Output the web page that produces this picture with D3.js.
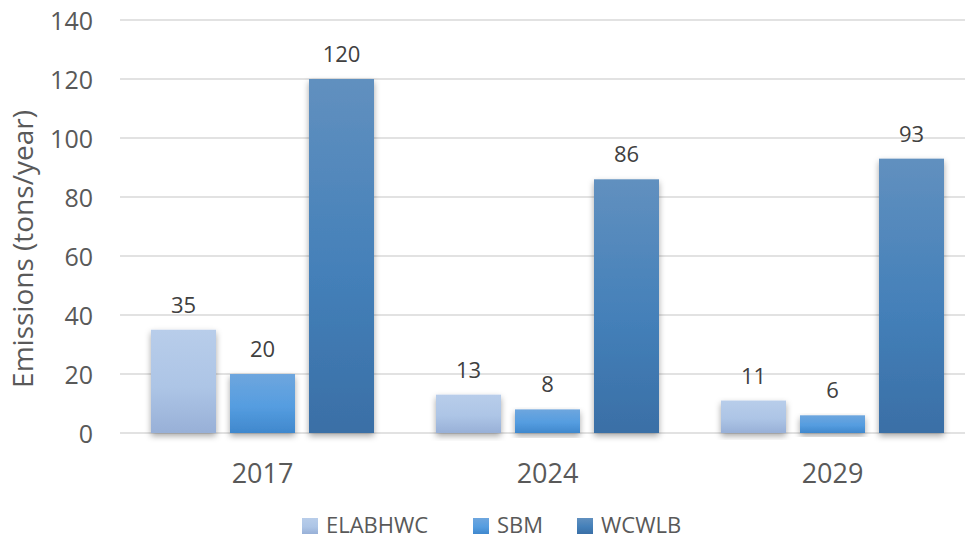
<!DOCTYPE html>
<html><head><meta charset="utf-8">
<script src="https://cdn.jsdelivr.net/npm/d3@7"></script>
<style>body{margin:0;background:#fff}svg{display:block}text{font-family:"Open Sans",sans-serif}</style>
</head><body>
<svg id="c" width="965" height="540"></svg>
<script>
const categories = ["2017", "2024", "2029"];
const seriesNames = ["ELABHWC", "SBM", "WCWLB"];
const ELABHWC = [35, 13, 11];
const SBM = [20, 8, 6];
const WCWLB = [120, 86, 93];
const yTicks = [0, 20, 40, 60, 80, 100, 120, 140];
const yTitle = "Emissions (tons/year)";

const seriesValues = [ELABHWC, SBM, WCWLB];
const grads = [
  [["0%","#b8cdea"],["55%","#adc5e6"],["100%","#98b0d7"]],
  [["0%","#6ea6de"],["55%","#559de0"],["100%","#4088cd"]],
  [["0%","#6190bf"],["55%","#4480b9"],["100%","#3a6fa6"]]
];
const FONT = "'Open Sans',sans-serif";

const svg = d3.select("#c");
const defs = svg.append("defs");
grads.forEach((g,i)=>{
  const lg = defs.append("linearGradient").attr("id","g"+i).attr("x1",0).attr("y1",0).attr("x2",0).attr("y2",1);
  g.forEach(s=>lg.append("stop").attr("offset",s[0]).attr("stop-color",s[1]));
});
const f = defs.append("filter").attr("id","sh").attr("x","-30%").attr("y","-10%").attr("width","160%").attr("height","130%");
f.append("feDropShadow").attr("dx",0).attr("dy",3).attr("stdDeviation",3).attr("flood-color","#000").attr("flood-opacity",0.35);

const y = d3.scaleLinear().domain([0,140]).range([433,20]);
const x0 = d3.scaleBand().domain(categories).range([120,975]).paddingInner(0).paddingOuter(0);
const x1 = d3.scaleBand().domain(seriesNames).range([31, 285-31]).paddingInner(14/79).paddingOuter(0);

// gridlines
svg.append("g").selectAll("line").data(yTicks).join("line")
  .attr("x1",120).attr("x2",975).attr("y1",d=>y(d)).attr("y2",d=>y(d))
  .attr("stroke","#d9d9d9").attr("stroke-width",1.3);

// y axis labels
const yAxis = d3.axisLeft(y).tickValues(yTicks).tickSize(0).tickPadding(0);
const ya = svg.append("g").attr("transform","translate(93,0)").call(yAxis);
ya.select(".domain").remove();
ya.selectAll("text").attr("font-size",25).attr("fill","#595959").attr("font-family",FONT).attr("dy","0.36em");

// y title
svg.append("text").attr("transform","translate(23,249) rotate(-90)").attr("text-anchor","middle")
  .attr("dy","0.36em").attr("font-size",28).attr("fill","#595959").text(yTitle);

// x axis labels
const xAxis = d3.axisBottom(x0).tickSize(0).tickPadding(0);
const xa = svg.append("g").attr("transform","translate(0,473)").call(xAxis);
xa.select(".domain").remove();
xa.selectAll("text").attr("font-size",27).attr("fill","#595959").attr("dy","0.36em").attr("font-family",FONT);

// bars
const groups = svg.append("g").selectAll("g").data(categories).join("g")
  .attr("transform",d=>`translate(${x0(d)},0)`);
seriesNames.forEach((s,si)=>{
  groups.append("rect")
    .attr("x",x1(s)).attr("width",x1.bandwidth())
    .attr("y",(d,ci)=>y(seriesValues[si][ci]))
    .attr("height",(d,ci)=>y(0)-y(seriesValues[si][ci]))
    .attr("fill",`url(#g${si})`).attr("filter","url(#sh)");
  groups.append("text")
    .attr("x",x1(s)+x1.bandwidth()/2)
    .attr("y",(d,ci)=>y(seriesValues[si][ci])-17)
    .attr("text-anchor","middle").attr("font-size",22).attr("fill","#404040")
    .text((d,ci)=>seriesValues[si][ci]);
});

// legend
const legX = [302, 473, 577];
const leg = svg.append("g").selectAll("g").data(seriesNames).join("g")
  .attr("transform",(d,i)=>`translate(${legX[i]},518)`);
leg.append("rect").attr("width",16).attr("height",16).attr("fill",(d,i)=>`url(#g${i})`);
leg.append("text").attr("x",24).attr("y",15).attr("font-size",22).attr("fill","#595959").text(d=>d);
</script>
</body></html>
